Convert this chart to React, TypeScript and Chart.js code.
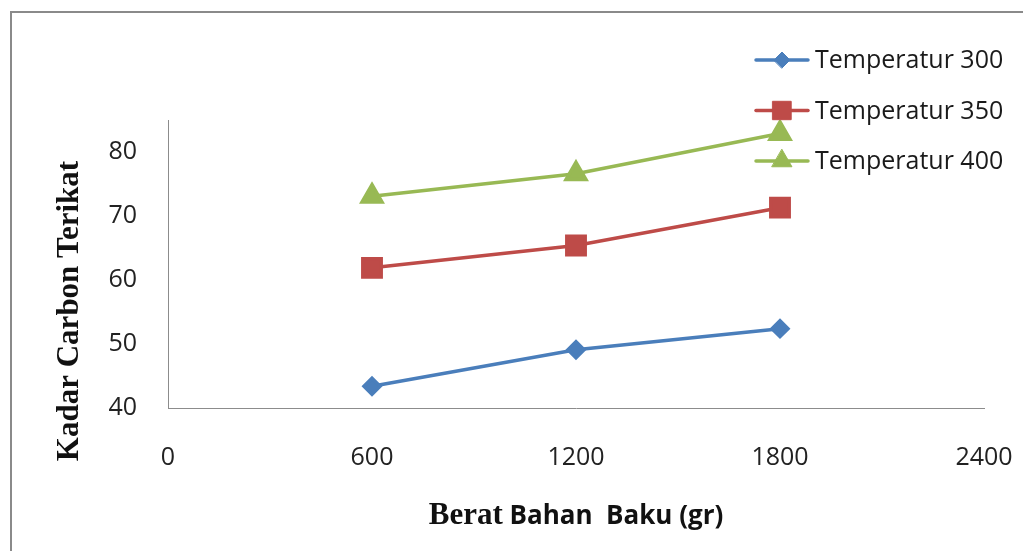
import React, { useEffect, useRef } from 'react';
import { Chart, registerables } from 'chart.js';
import { drawPoint } from 'chart.js/helpers';

Chart.register(...registerables);

const weights = [600, 1200, 1800];
const temp300 = [43.4, 49.1, 52.4];
const temp350 = [61.9, 65.4, 71.3];
const temp400 = [73.1, 76.6, 82.9];
const seriesLabels = ['Temperatur 300', 'Temperatur 350', 'Temperatur 400'];
const xTickValues = [0, 600, 1200, 1800, 2400];
const yTickValues = [40, 50, 60, 70, 80];
const yTitle = 'Kadar Carbon Terikat';
const xTitleSerif = 'Berat';
const xTitleSans = ' Bahan  Baku (gr)';

const textPlugin = {
  id: 'customText',
  afterDraw(chart: any) {
    const ctx = chart.ctx as CanvasRenderingContext2D;
    const area = chart.chartArea;
    ctx.save();
    // legend
    chart.data.datasets.forEach((ds: any, i: number) => {
      const y = 60 + i * 50.5;
      ctx.strokeStyle = ds.borderColor;
      ctx.lineWidth = ds.borderWidth;
      ctx.lineCap = 'round';
      ctx.beginPath();
      ctx.moveTo(756, y);
      ctx.lineTo(808, y);
      ctx.stroke();
      ctx.fillStyle = ds.pointBackgroundColor;
      ctx.strokeStyle = ds.pointBorderColor;
      ctx.lineWidth = 1;
      drawPoint(ctx, { pointStyle: ds.pointStyle, radius: ds.pointRadius, rotation: 0, borderWidth: 1 } as any, 782, y);
      ctx.fillStyle = '#1a1a1a';
      ctx.font = '25px "Open Sans"';
      ctx.textBaseline = 'middle';
      ctx.textAlign = 'left';
      ctx.fillText(ds.label, 815, y + 1);
    });
    // y title
    ctx.save();
    ctx.translate(70, 311);
    ctx.rotate(-Math.PI / 2);
    ctx.font = 'bold 31px "Liberation Serif"';
    ctx.fillStyle = '#111';
    ctx.textAlign = 'center';
    ctx.textBaseline = 'middle';
    ctx.fillText(yTitle, 0, 0);
    ctx.restore();
    // x title
    const serifFont = 'bold 31px "Liberation Serif"';
    const sansFont = 'bold 26px "Open Sans"';
    ctx.font = serifFont;
    const w1 = ctx.measureText(xTitleSerif).width;
    ctx.font = sansFont;
    const w2 = ctx.measureText(xTitleSans).width;
    const cx = (area.left + area.right) / 2;
    const startX = cx - (w1 + w2) / 2;
    ctx.textAlign = 'left';
    ctx.textBaseline = 'alphabetic';
    ctx.fillStyle = '#111';
    ctx.font = serifFont;
    ctx.fillText(xTitleSerif, startX, 524);
    ctx.font = sansFont;
    ctx.fillText(xTitleSans, startX + w1, 524);
    ctx.restore();
  },
};

export default function App() {
  const ref = useRef<HTMLCanvasElement>(null);
  useEffect(() => {
    if (!ref.current) return;
    const mk = (label: string, vals: number[], color: string, style: string, r: number) => ({
      label,
      data: weights.map((x, i) => ({ x, y: vals[i] })),
      borderColor: color,
      backgroundColor: color,
      pointBackgroundColor: color,
      pointBorderColor: color,
      borderWidth: 3.5,
      pointStyle: style,
      pointRadius: r,
      pointHoverRadius: r,
      borderCapStyle: 'round',
      tension: 0,
    });
    const chart = new Chart(ref.current, {
      type: 'line',
      data: {
        datasets: [
          mk(seriesLabels[0], temp300, '#4A7EBB', 'rectRot', 8),
          mk(seriesLabels[1], temp350, '#BE4B48', 'rect', 13),
          mk(seriesLabels[2], temp400, '#98B954', 'triangle', 11.5),
        ] as any,
      },
      options: {
        animation: false,
        responsive: false,
        layout: { padding: { top: 120, right: 39, bottom: 0, left: 0 } },
        plugins: { legend: { display: false }, tooltip: { enabled: false }, title: { display: false } },
        scales: {
          x: {
            type: 'linear',
            min: 0,
            max: 2400,
            afterBuildTicks: (s: any) => {
              s.ticks = xTickValues.map((v) => ({ value: v }));
            },
            afterFit: (s: any) => {
              s.height = 143;
              s.paddingLeft = 0;
              s.paddingRight = 0;
            },
            grid: { display: false, drawTicks: false },
            border: { display: true, color: '#8c8c8c', width: 1 },
            ticks: {
              color: '#222',
              font: { family: 'Open Sans', size: 25 },
              padding: 35,
              maxRotation: 0,
              autoSkip: false,
              callback: (v: any) => String(v),
            },
          },
          y: {
            type: 'linear',
            min: 40,
            max: 85,
            afterBuildTicks: (s: any) => {
              s.ticks = yTickValues.map((v) => ({ value: v }));
            },
            afterFit: (s: any) => {
              s.width = 168;
              s.paddingTop = 0;
              s.paddingBottom = 0;
            },
            grid: { display: false, drawTicks: false },
            border: { display: true, color: '#8c8c8c', width: 1 },
            ticks: {
              color: '#222',
              font: { family: 'Open Sans', size: 25 },
              padding: 31,
              autoSkip: false,
              callback: (v: any) => String(v),
            },
          },
        },
      },
      plugins: [textPlugin],
    });
    return () => chart.destroy();
  }, []);
  return (
    <div style={{ position: 'fixed', left: 0, top: 0, width: 1023, height: 551, background: '#fff', overflow: 'hidden' }}>
      <div
        style={{
          position: 'absolute',
          left: 10,
          top: 11,
          width: 1100,
          height: 700,
          borderTop: '2px solid #8a8a8a',
          borderLeft: '2px solid #8a8a8a',
        }}
      />
      <canvas ref={ref} width={1023} height={551} style={{ position: 'absolute', left: 0, top: 0 }} />
    </div>
  );
}
